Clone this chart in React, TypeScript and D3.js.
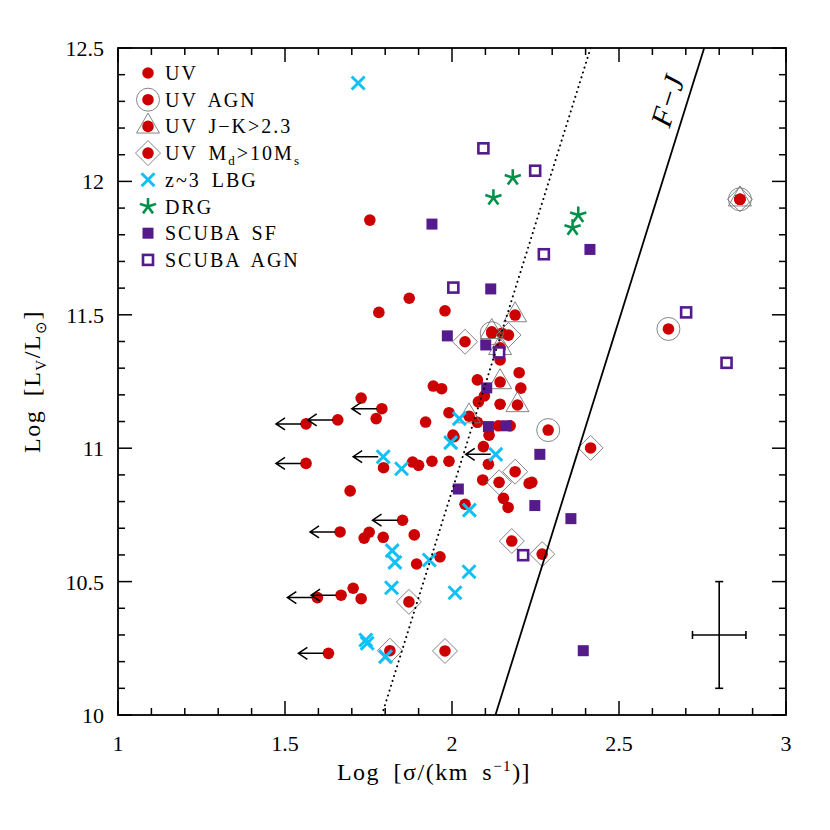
import React from "react";
import * as d3 from "d3";

type Pt = [number, number];

// UV selected galaxies (plain red dots)
const uvPlain: Pt[] = [
  [1.754, 11.855], [1.872, 11.562], [1.781, 11.509], [1.979, 11.515],
  [1.944, 11.233], [1.969, 11.223], [1.728, 11.188], [1.773, 11.111],
  [1.921, 11.098], [1.991, 11.133], [2.003, 11.049], [1.795, 10.927],
  [1.882, 10.948], [1.900, 10.936], [1.940, 10.951], [1.991, 10.951],
  [1.695, 10.840], [1.752, 10.685], [1.737, 10.663], [1.794, 10.666],
  [1.887, 10.675], [1.964, 10.593], [1.894, 10.566], [1.704, 10.475],
  [1.728, 10.436], [2.076, 11.256], [2.206, 11.225], [2.079, 11.174],
  [2.097, 11.196], [2.144, 11.165], [2.076, 11.097], [2.139, 11.084],
  [2.174, 11.084], [2.111, 11.049], [2.006, 11.043], [2.094, 11.006],
  [2.109, 10.940], [2.092, 10.881], [2.231, 10.868], [2.239, 10.872],
  [2.154, 10.812], [2.168, 10.778], [2.039, 10.790], [2.201, 11.283],
  [2.144, 11.331], [2.149, 11.431],
];

// UV galaxies with upper limits on sigma
const uvLimits: Pt[] = [
  [1.790, 11.148], [1.658, 11.106], [1.563, 11.091], [1.563, 10.943],
  [1.852, 10.730], [1.665, 10.686], [1.668, 10.449], [1.597, 10.440],
  [1.630, 10.231],
];

const uvAgn: Pt[] = [[2.119, 11.431], [2.288, 11.068], [2.648, 11.447], [2.862, 11.933]];

const uvRed: Pt[] = [
  [2.189, 11.499], [2.144, 11.248], [2.196, 11.162], [2.051, 11.120],
  [2.119, 11.436], [2.144, 11.376], [2.862, 11.933],
];

const uvMassive: Pt[] = [
  [2.039, 11.399], [2.169, 11.424], [2.415, 11.001], [2.189, 10.912],
  [2.141, 10.872], [2.179, 10.652], [2.270, 10.603], [1.871, 10.424],
  [1.814, 10.241], [1.979, 10.240], [2.862, 11.933],
];

const lbg: Pt[] = [
  [1.719, 12.369], [1.849, 10.923], [1.996, 11.021], [2.022, 11.111],
  [2.052, 10.768], [1.821, 10.616], [1.829, 10.572], [1.932, 10.581],
  [1.819, 10.477], [2.009, 10.458], [2.051, 10.537], [1.742, 10.281],
  [1.746, 10.269], [1.801, 10.219],
];
const lbgLimits: Pt[] = [[1.794, 10.968], [2.131, 10.977]];

const drg: Pt[] = [[2.182, 12.014], [2.124, 11.939], [2.378, 11.874], [2.361, 11.826]];

const scubaSF: Pt[] = [
  [1.940, 11.840], [2.413, 11.745], [2.116, 11.597], [1.986, 11.421],
  [2.101, 11.387], [2.104, 11.226], [2.109, 11.081], [2.162, 11.084],
  [2.263, 10.977], [2.019, 10.847], [2.248, 10.785], [2.356, 10.736],
  [2.393, 10.241],
];

const scubaAgn: Pt[] = [
  [2.094, 12.124], [2.249, 12.040], [2.275, 11.727], [2.004, 11.602],
  [2.141, 11.359], [2.213, 10.599], [2.701, 11.509], [2.822, 11.320],
];

const xTicks = [1, 1.5, 2, 2.5, 3];
const yTicks = [10, 10.5, 11, 11.5, 12, 12.5];
const limitLength = 0.09; // dex, length of upper-limit arrows
const fjDotted = 1.79; // log sigma at log L = 10
const fjSolid = 2.13;
const errX = [2.8, 0.08];
const errY = [10.3, 0.2];

const RED = "#cc0000";
const CYAN = "#12c0f5";
const GREEN = "#00904a";
const PURPLE = "#551a8b";
const FONT = "'Liberation Serif', 'Times New Roman', serif";

function Dot({ cx, cy }: { cx: number; cy: number }) {
  return <circle cx={cx} cy={cy} r={5.8} fill={RED} />;
}
function Ring({ cx, cy }: { cx: number; cy: number }) {
  return <circle cx={cx} cy={cy} r={11.5} fill="none" stroke="#777" strokeWidth={0.9} />;
}
function Tri({ cx, cy }: { cx: number; cy: number }) {
  const h = 20, w = 23;
  const d = `M${cx},${cy - (2 * h) / 3}L${cx + w / 2},${cy + h / 3}L${cx - w / 2},${cy + h / 3}Z`;
  return <path d={d} fill="none" stroke="#777" strokeWidth={0.9} />;
}
function Diam({ cx, cy }: { cx: number; cy: number }) {
  const s = 12.5;
  const d = `M${cx},${cy - s}L${cx + s},${cy}L${cx},${cy + s}L${cx - s},${cy}Z`;
  return <path d={d} fill="none" stroke="#777" strokeWidth={0.9} />;
}
function Cross({ cx, cy }: { cx: number; cy: number }) {
  const s = 6.5;
  return (
    <path
      d={`M${cx - s},${cy - s}L${cx + s},${cy + s}M${cx - s},${cy + s}L${cx + s},${cy - s}`}
      stroke={CYAN}
      strokeWidth={3}
    />
  );
}
function Star({ cx, cy }: { cx: number; cy: number }) {
  const r = 8.5;
  const d = d3
    .range(5)
    .map(i => {
      const a = -Math.PI / 2 + (i * 2 * Math.PI) / 5;
      return `M${cx},${cy}L${cx + r * Math.cos(a)},${cy + r * Math.sin(a)}`;
    })
    .join("");
  return <path d={d} stroke={GREEN} strokeWidth={2.6} fill="none" />;
}
function FSquare({ cx, cy }: { cx: number; cy: number }) {
  return <rect x={cx - 5.5} y={cy - 5.5} width={11} height={11} fill={PURPLE} />;
}
function OSquare({ cx, cy }: { cx: number; cy: number }) {
  return (
    <rect x={cx - 5} y={cy - 5} width={10} height={10} fill="white" stroke={PURPLE} strokeWidth={2.6} />
  );
}
function Arrow({ x1, x2, yy }: { x1: number; x2: number; yy: number }) {
  return (
    <path
      d={`M${x1},${yy}L${x2},${yy}M${x2 + 9},${yy - 6}L${x2},${yy}L${x2 + 9},${yy + 6}`}
      stroke="black"
      strokeWidth={1.5}
      fill="none"
    />
  );
}

export default function App() {
  const x = d3.scaleLinear().domain([1, 3]).range([118, 786]);
  const y = d3.scaleLinear().domain([10, 12.5]).range([715, 48]);
  const [x0, x1] = x.range();
  const [y0, y1] = y.range();

  const xMinor = d3.range(10, 31).map(v => v / 10);
  const yMinor = d3.range(100, 126).map(v => v / 10);
  const isMajor = (v: number) => Math.abs(v * 2 - Math.round(v * 2)) < 1e-6;

  const fj = (s0: number) => [
    [s0, 10],
    [s0 + 2.5 / 4, 12.5],
  ];
  const line = d3
    .line<number[]>()
    .x(d => x(d[0]))
    .y(d => y(d[1]));

  const solid = fj(fjSolid);
  const fjAngle = (Math.atan2(y(solid[1][1]) - y(solid[0][1]), x(solid[1][0]) - x(solid[0][0])) * 180) / Math.PI;
  const fjLum = 12.28;

  const legend = [
    { label: <>UV</>, m: (cx: number, cy: number) => <Dot cx={cx} cy={cy} /> },
    { label: <>UV AGN</>, m: (cx: number, cy: number) => <><Ring cx={cx} cy={cy} /><Dot cx={cx} cy={cy} /></> },
    { label: <>UV J−K&gt;2.3</>, m: (cx: number, cy: number) => <><Tri cx={cx} cy={cy} /><Dot cx={cx} cy={cy} /></> },
    {
      label: (
        <>
          UV M<tspan fontSize={13} dy={5}>d</tspan>
          <tspan dy={-5}>&gt;10M</tspan>
          <tspan fontSize={13} dy={5}>s</tspan>
        </>
      ),
      m: (cx: number, cy: number) => <><Diam cx={cx} cy={cy} /><Dot cx={cx} cy={cy} /></>,
    },
    { label: <>z~3 LBG</>, m: (cx: number, cy: number) => <Cross cx={cx} cy={cy} /> },
    { label: <>DRG</>, m: (cx: number, cy: number) => <Star cx={cx} cy={cy} /> },
    { label: <>SCUBA SF</>, m: (cx: number, cy: number) => <FSquare cx={cx} cy={cy} /> },
    { label: <>SCUBA AGN</>, m: (cx: number, cy: number) => <OSquare cx={cx} cy={cy} /> },
  ];

  return (
    <svg
      width={830}
      height={830}
      style={{ position: "absolute", left: 0, top: 0, background: "white" }}
      fontFamily={FONT}
    >
      <rect width={830} height={830} fill="white" />

      {/* data: UV dots and outlines */}
      {[...uvPlain, ...uvLimits, ...uvAgn, ...uvRed, ...uvMassive].map((d, i) => (
        <Dot key={"u" + i} cx={x(d[0])} cy={y(d[1])} />
      ))}
      {uvAgn.map((d, i) => <Ring key={"a" + i} cx={x(d[0])} cy={y(d[1])} />)}
      {uvRed.map((d, i) => <Tri key={"t" + i} cx={x(d[0])} cy={y(d[1])} />)}
      {uvMassive.map((d, i) => <Diam key={"m" + i} cx={x(d[0])} cy={y(d[1])} />)}
      {uvLimits.map((d, i) => (
        <Arrow key={"ul" + i} x1={x(d[0]) - 5} x2={x(d[0] - limitLength)} yy={y(d[1])} />
      ))}

      {lbg.concat(lbgLimits).map((d, i) => <Cross key={"l" + i} cx={x(d[0])} cy={y(d[1])} />)}
      {lbgLimits.map((d, i) => (
        <Arrow key={"ll" + i} x1={x(d[0]) - 5} x2={x(d[0] - limitLength)} yy={y(d[1])} />
      ))}
      {drg.map((d, i) => <Star key={"d" + i} cx={x(d[0])} cy={y(d[1])} />)}
      {scubaSF.map((d, i) => <FSquare key={"s" + i} cx={x(d[0])} cy={y(d[1])} />)}
      {scubaAgn.map((d, i) => <OSquare key={"o" + i} cx={x(d[0])} cy={y(d[1])} />)}

      {/* Faber-Jackson lines */}
      <path d={line(fj(fjDotted) as number[][]) || ""} stroke="black" strokeWidth={2} strokeDasharray="0.1 5" strokeLinecap="round" fill="none" />
      <path d={line(solid as number[][]) || ""} stroke="black" strokeWidth={1.8} fill="none" />
      <text
        transform={`translate(${x(fjSolid + (fjLum - 10) / 4)},${y(fjLum)}) rotate(${fjAngle})`}
        fontSize={30}
        fontStyle="italic"
        textAnchor="middle"
        dy={-9}
      >
        F−J
      </text>

      {/* typical error bar */}
      <g stroke="black" strokeWidth={1.6}>
        <line x1={x(errX[0] - errX[1])} x2={x(errX[0] + errX[1])} y1={y(errY[0])} y2={y(errY[0])} />
        <line x1={x(errX[0])} x2={x(errX[0])} y1={y(errY[0] - errY[1])} y2={y(errY[0] + errY[1])} />
        <line x1={x(errX[0] - errX[1])} x2={x(errX[0] - errX[1])} y1={y(errY[0]) - 4} y2={y(errY[0]) + 4} />
        <line x1={x(errX[0] + errX[1])} x2={x(errX[0] + errX[1])} y1={y(errY[0]) - 4} y2={y(errY[0]) + 4} />
        <line x1={x(errX[0]) - 4} x2={x(errX[0]) + 4} y1={y(errY[0] - errY[1])} y2={y(errY[0] - errY[1])} />
        <line x1={x(errX[0]) - 4} x2={x(errX[0]) + 4} y1={y(errY[0] + errY[1])} y2={y(errY[0] + errY[1])} />
      </g>

      {/* frame and ticks */}
      <rect x={x0} y={y1} width={x1 - x0} height={y0 - y1} fill="none" stroke="black" strokeWidth={1.8} />
      <g stroke="black" strokeWidth={1.5}>
        {xMinor.map(v => {
          const len = isMajor(v) ? 14 : 7;
          return (
            <g key={"xt" + v}>
              <line x1={x(v)} x2={x(v)} y1={y0} y2={y0 - len} />
              <line x1={x(v)} x2={x(v)} y1={y1} y2={y1 + len} />
            </g>
          );
        })}
        {yMinor.map(v => {
          const len = isMajor(v) ? 14 : 7;
          return (
            <g key={"yt" + v}>
              <line x1={x0} x2={x0 + len} y1={y(v)} y2={y(v)} />
              <line x1={x1} x2={x1 - len} y1={y(v)} y2={y(v)} />
            </g>
          );
        })}
      </g>
      {xTicks.map(v => (
        <text key={"xl" + v} x={x(v)} y={y0 + 36} textAnchor="middle" fontSize={22}>
          {d3.format("")(v)}
        </text>
      ))}
      {yTicks.map(v => (
        <text key={"yl" + v} x={x0 - 14} y={y(v) + 8} textAnchor="end" fontSize={22}>
          {d3.format("")(v)}
        </text>
      ))}

      {/* axis labels */}
      <text x={(x0 + x1) / 2 - 18} y={y0 + 65} textAnchor="middle" fontSize={24} letterSpacing={1.5} wordSpacing={6}>
        Log [σ/(km s<tspan fontSize={15} dy={-9}>−1</tspan>
        <tspan dy={9}>)]</tspan>
      </text>
      <text transform={`translate(40,${(y0 + y1) / 2}) rotate(-90)`} textAnchor="middle" fontSize={24} letterSpacing={1.5} wordSpacing={6}>
        Log [L<tspan fontSize={15} dy={6}>V</tspan>
        <tspan dy={-6}>/L</tspan>
        <tspan fontSize={15} dy={6}>⊙</tspan>
        <tspan dy={-6}>]</tspan>
      </text>

      {/* legend */}
      {legend.map((l, i) => {
        const cy = 73 + i * 26.7;
        return (
          <g key={"lg" + i}>
            {l.m(148, cy)}
            <text x={165} y={cy + 7} fontSize={20} letterSpacing={2} wordSpacing={4}>
              {l.label}
            </text>
          </g>
        );
      })}
    </svg>
  );
}
